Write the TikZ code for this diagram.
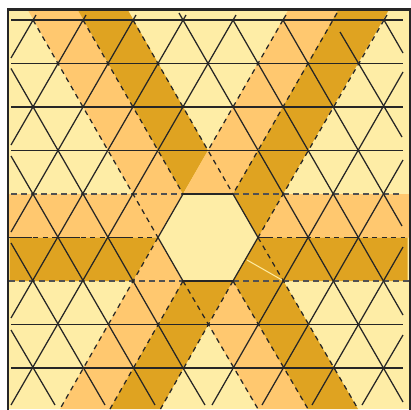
\documentclass[tikz,border=0pt]{standalone}
\definecolor{paleyellow}{HTML}{FEEDA6}
\definecolor{lightband}{HTML}{FFC86F}
\definecolor{darkband}{HTML}{DFA321}
\definecolor{inkline}{HTML}{262626}
\tikzset{
  gridline/.style={draw=inkline,line width=1.25pt},
  edgeline/.style={draw=inkline,line width=1.25pt,dash pattern=on 5pt off 4.5pt},
  midline/.style={draw=inkline!80,line width=1.5pt,dash pattern=on 6pt off 4pt}
}
\begin{document}
\begin{tikzpicture}[x=1pt,y=-1pt]
\useasboundingbox (0,0) rectangle (411,409);
\clip (0,0) rectangle (411,409);
\fill[paleyellow] (8,9.5) rectangle (410,409);
% left and right bands
\fill[lightband] (8,194)--(183,194)--(158,237.5)--(8,237.5)--cycle;
\fill[darkband] (9.5,237.5)--(158,237.5)--(133,281)--(9.5,281)--cycle;
\fill[lightband] (158,237.5)--(183,281)--(133,281)--cycle;
\fill[lightband] (283,194)--(409,194)--(409,237.5)--(258,237.5)--cycle;
\fill[darkband] (258,237.5)--(407.5,237.5)--(407.5,281)--(233,281)--cycle;
% upper left band
\fill[lightband] (27.5,9.5)--(77.5,9.5)--(183,194)--(133,194)--cycle;
\fill[darkband] (77.5,9.5)--(127.5,9.5)--(208,150.5)--(183,194)--cycle;
% upper right band
\fill[lightband] (288.5,9.5)--(338.5,9.5)--(233,194)--(183,194)--cycle;
\fill[darkband] (338.5,9.5)--(389,9.5)--(258,237.5)--(233,194)--cycle;
% lower bands
\fill[lightband] (133,281)--(183,281)--(110,409)--(60,409)--cycle;
\fill[darkband] (183,281)--(233,281)--(160.5,409)--(110,409)--cycle;
\fill[lightband] (233,281)--(308,409)--(258,409)--(208,324.5)--cycle;
\fill[darkband] (258,237.5)--(358,409)--(308,409)--(233,281)--cycle;
% horizontal lines
\draw[gridline] (11,20)--(403,20);
\draw[gridline] (11,63.5)--(403,63.5);
\draw[gridline] (11,107)--(403,107);
\draw[gridline] (11,150.5)--(403,150.5);
\draw[gridline] (183,194)--(233,194);
\draw[gridline] (8,237.5)--(32,237.5);
\draw[gridline] (58,237.5)--(80,237.5);
\draw[gridline] (108,237.5)--(130,237.5);
\draw[gridline] (258,237.5)--(270,237.5);
\draw[gridline] (298,237.5)--(308,237.5);
\draw[gridline] (347,237.5)--(358,237.5);
\draw[gridline] (183,281)--(233,281);
\draw[gridline] (11,324.5)--(403,324.5);
\draw[gridline] (11,368)--(403,368);
\draw[midline] (11,194)--(183,194);
\draw[midline] (233,194)--(400,194);
\draw[edgeline] (33,237.5)--(158,237.5);
\draw[edgeline] (258,237.5)--(405,237.5);
\draw[midline] (9,281)--(183,281);
\draw[midline] (233,281)--(409,281);
% lines going down to the right
\draw[gridline] (11,68.5)--(183,368)--(205,405);
\draw[gridline] (11,156)--(155,405);
\draw[gridline] (11,243)--(105,405);
\draw[gridline] (11,330)--(55,405);
\draw[gridline] (158,237.5)--(183,281);
\draw[gridline] (233,194)--(258,237.5);
\draw[gridline] (183,20)--(179,13);
\draw[gridline] (183,20)--(403,402);
\draw[gridline] (233,20)--(403,315);
\draw[gridline] (283,20)--(402,226);
\draw[gridline] (340,32)--(402,137);
\draw[gridline] (384,20)--(403,53);
\draw[edgeline] (33,20)--(158,237.5);
\draw[edgeline] (183,281)--(258,409);
\draw[edgeline] (83,20)--(183,194);
\draw[edgeline] (233,281)--(308,409);
\draw[edgeline] (133,20)--(233,194);
\draw[edgeline] (258,237.5)--(358,409);
% lines going down to the left
\draw[gridline] (36,15)--(11,58);
\draw[gridline] (86,15)--(11,145);
\draw[gridline] (136,15)--(11,232);
\draw[gridline] (186,15)--(11,318);
\draw[gridline] (236,15)--(11,405);
\draw[gridline] (183,194)--(158,237.5);
\draw[gridline] (258,237.5)--(233,281);
\draw[gridline] (403,72)--(212,405);
\draw[gridline] (403,160)--(262,405);
\draw[gridline] (403,247)--(312,405);
\draw[gridline] (403,335)--(362,405);
\draw[gridline] (286,15)--(283,20);
\draw[gridline] (387,15)--(384,20);
\draw[edgeline] (283,20)--(208,150.5);
\draw[edgeline] (158,237.5)--(60,409);
\draw[edgeline] (337,13)--(233,194);
\draw[edgeline] (183,281)--(110,409);
\draw[edgeline] (384,20)--(258,237.5);
\draw[edgeline] (233,281)--(160.5,409);
\draw[paleyellow,line width=1pt] (247,260)--(282,280);
\draw[inkline,line width=2.5pt] (8,430)--(8,9.5)--(410,9.5)--(410,430);
\end{tikzpicture}
\end{document}
